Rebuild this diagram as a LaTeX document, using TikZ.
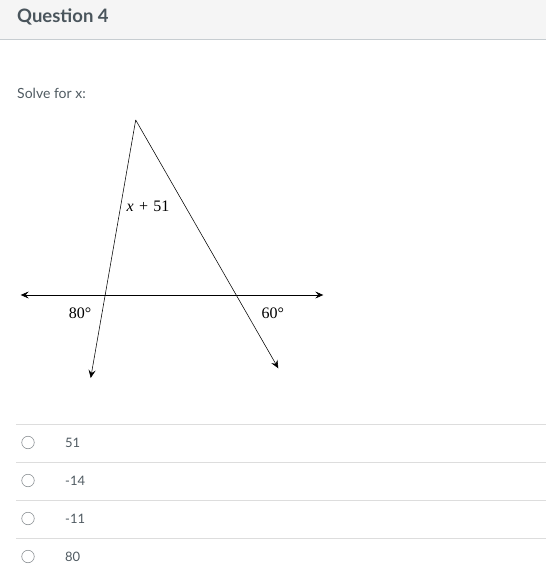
\documentclass[tikz,border=0pt]{standalone}
\usepackage{fontspec}
\setmainfont{Lato}
\newfontfamily\figfont{Liberation Serif}
\usetikzlibrary{arrows.meta}

\definecolor{headbg}{HTML}{F5F5F5}
\definecolor{headline}{HTML}{C7CDD1}
\definecolor{titletext}{HTML}{4A555C}
\definecolor{bodytext}{HTML}{4F5A61}
\definecolor{sepline}{HTML}{DDDDDD}
\definecolor{radio}{HTML}{8A8F93}

\tikzset{
  figline/.style={line width=0.55pt, black},
  figlabel/.style={font=\figfont\fontsize{16}{18}\selectfont, inner sep=0pt},
  answer/.style={anchor=west, inner sep=0pt, text=bodytext, font=\fontsize{13}{15}\selectfont},
  radiobtn/.style={circle, draw=radio, line width=0.6pt, minimum size=12.5pt, inner sep=0pt},
}

\begin{document}
\begin{tikzpicture}[x=1pt, y=-1pt, >={Stealth[length=8pt, width=7pt, inset=3pt]}]
			\useasboundingbox (0,0) rectangle (546,585);

			% Header
			\fill[headbg] (0,0) rectangle (546,39);
			\draw[headline, line width=1pt] (0,39.5) -- (546,39.5);
			\node[anchor=west, inner sep=0pt, text=titletext, font=\bfseries\fontsize{18.5}{21}\selectfont] (title) at (17,16.5) {Question 4};
			\node[anchor=west, inner sep=0pt, text=bodytext, font=\fontsize{14}{17}\selectfont] (prompt) at (17,93) {Solve for x:};

			% Lines of the figure
			\coordinate (apex) at (135.7,120);
			\coordinate (leftEnd) at (90.7,378);
			\coordinate (rightEnd) at (278.3,368.3);
			\coordinate (hLeft) at (20.7,295);
			\coordinate (hRight) at (323.3,295);
			\draw[figline, <->] (hLeft) -- (hRight);
			\draw[figline, ->] (apex) -- (leftEnd);
			\draw[figline, ->] (apex) -- (rightEnd);

			% Angle labels
			\node[figlabel] (topAngle) at (148,206) {\itshape x\upshape\,\,+\,\,51};
			\node[figlabel] (leftAngle) at (80,313) {80°};
			\node[figlabel] (rightAngle) at (272.7,313) {60°};

			% Answer choices
			\foreach \y in {424.3,462.3,500.3,538.3}
				\draw[sepline, line width=1pt] (16,\y) -- (546,\y);
			\foreach \val [count=\i] in {51,-14,-11,80} {
				\node[radiobtn] (radio\i) at (28,404.5+38*\i) {};
				\node[answer] (choice\i) at (65,404.5+38*\i) {\val};
			}
		\end{tikzpicture}
\end{document}
